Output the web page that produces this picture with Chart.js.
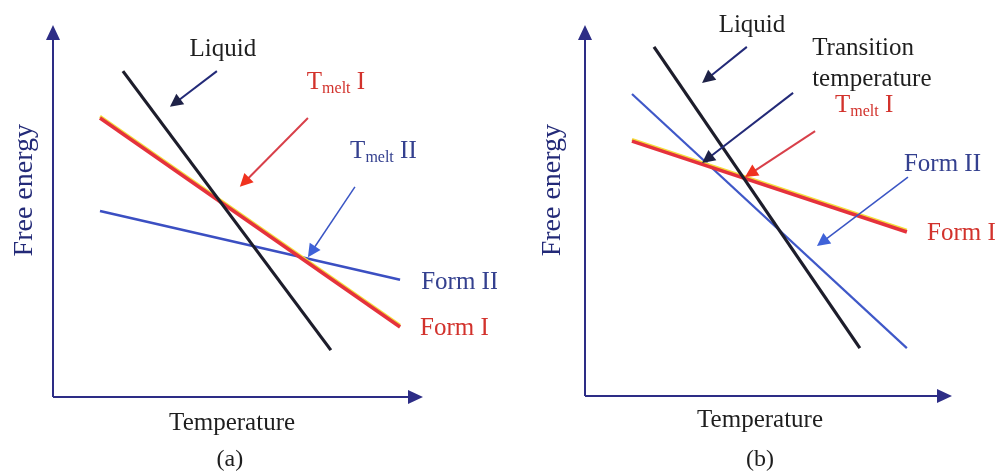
<!DOCTYPE html>
<html>
<head>
<meta charset="utf-8">
<script src="https://cdn.jsdelivr.net/npm/chart.js@4.4.1/dist/chart.umd.min.js"></script>
<style>
  html, body { margin: 0; padding: 0; background: #fff; }
  .panel { position: absolute; top: 0; width: 497px; height: 472px; }
</style>
</head>
<body>
<div class="panel" style="left:0"><canvas id="panelA" width="497" height="472"></canvas></div>
<div class="panel" style="left:498px"><canvas id="panelB" width="497" height="472"></canvas></div>
<script>
// Free energy against temperature for a liquid and two crystal forms.
// Each line is given by its two end points: temperature (T) and free energy (G).

// (a) monotropic case
const liquidA_T = [18.9, 75.1];
const liquidA_G = [87.6, 12.6];
const formIA_T  = [12.7, 93.8];
const formIA_G  = [75.0, 18.8];
const formIIA_T = [12.7, 93.8];
const formIIA_G = [50.0, 31.5];

// (b) enantiotropic case
const liquidB_T = [18.8, 74.9];
const liquidB_G = [94.1, 12.9];
const formIB_T  = [12.8, 87.7];
const formIB_G  = [68.7, 44.2];
const formIIB_T = [12.8, 87.7];
const formIIB_G = [81.4, 12.9];

const axisTitleX = 'Temperature';
const axisTitleY = 'Free energy';

const SERIF = "'Liberation Serif', 'DejaVu Serif', 'Times New Roman', serif";
const C = {
  liquid: '#1d1d2b',
  red: '#e5323c',
  yellow: '#f4de3c',
  blueA: '#3b4fc2',
  blueB: '#3f58c8',
  axis: '#2d2d86',
  navy: '#232a78',
  redText: '#d2322c',
  blueText: '#34408f',
  text: '#1e1e1e'
};

const pts = (ts, gs) => ts.map((t, i) => ({ x: t, y: gs[i] }));

function lineSet(label, ts, gs, color, width, order, extra) {
  return Object.assign({
    label, data: pts(ts, gs), borderColor: color, borderWidth: width,
    pointRadius: 0, showLine: true, fill: false, tension: 0,
    borderCapStyle: 'butt', order
  }, extra || {});
}

function drawHead(ctx, x1, y1, x2, y2, len, half, color) {
  const a = Math.atan2(y2 - y1, x2 - x1);
  const bx = x2 - len * Math.cos(a), by = y2 - len * Math.sin(a);
  ctx.beginPath();
  ctx.moveTo(x2, y2);
  ctx.lineTo(bx + half * Math.sin(a), by - half * Math.cos(a));
  ctx.lineTo(bx - half * Math.sin(a), by + half * Math.cos(a));
  ctx.closePath();
  ctx.fillStyle = color;
  ctx.fill();
}

function drawArrow(ctx, p1, p2, lineColor, headColor, width, len, half) {
  const a = Math.atan2(p2[1] - p1[1], p2[0] - p1[0]);
  ctx.beginPath();
  ctx.moveTo(p1[0], p1[1]);
  ctx.lineTo(p2[0] - (len - 2) * Math.cos(a), p2[1] - (len - 2) * Math.sin(a));
  ctx.strokeStyle = lineColor;
  ctx.lineWidth = width;
  ctx.stroke();
  drawHead(ctx, p1[0], p1[1], p2[0], p2[1], len, half, headColor);
}

// Text with an optional subscript part: [[text, size, dy], ...]
function drawRich(ctx, parts, x, y, color) {
  ctx.fillStyle = color;
  ctx.textBaseline = 'alphabetic';
  ctx.textAlign = 'left';
  let cx = x;
  parts.forEach(([s, size, dy]) => {
    ctx.font = size + 'px ' + SERIF;
    ctx.fillText(s, cx, y + dy);
    cx += ctx.measureText(s).width;
  });
}

const decorPlugin = {
  id: 'decor',
  beforeDatasetDraw(chart, args) {
    const ds = chart.data.datasets[args.index];
    if (ds.shiftY) { chart.ctx.save(); chart.ctx.translate(0, ds.shiftY); }
  },
  afterDatasetDraw(chart, args) {
    const ds = chart.data.datasets[args.index];
    if (ds.shiftY) chart.ctx.restore();
  },
  beforeDatasetsDraw(chart) {
    const ctx = chart.ctx, sx = chart.scales.x, sy = chart.scales.y;
    const P = (x, y) => [sx.getPixelForValue(x), sy.getPixelForValue(y)];
    const o = P(0, 0), top = P(0, 100), right = P(100, 0);
    ctx.save();
    ctx.lineWidth = 2;
    ctx.strokeStyle = C.axis;
    ctx.beginPath();
    ctx.moveTo(o[0], o[1]); ctx.lineTo(top[0], top[1] + 12);
    ctx.moveTo(o[0], o[1]); ctx.lineTo(right[0] - 12, right[1]);
    ctx.stroke();
    drawHead(ctx, o[0], o[1], top[0], top[1], 15, 7, C.axis);
    drawHead(ctx, o[0], o[1], right[0], right[1], 15, 7, C.axis);
    ctx.restore();
  },
  afterDraw(chart) {
    const ctx = chart.ctx, sx = chart.scales.x, sy = chart.scales.y;
    const P = (x, y) => [sx.getPixelForValue(x), sy.getPixelForValue(y)];
    const cfg = chart.options.plugins.decor;
    ctx.save();
    cfg.arrows.forEach(a => {
      drawArrow(ctx, P(a.from[0], a.from[1]), P(a.to[0], a.to[1]), a.line, a.head, a.width, 13, 6.5);
    });
    cfg.labels.forEach(l => {
      const p = P(l.x, l.y);
      if (l.rotate) {
        ctx.save();
        ctx.translate(p[0], p[1]);
        ctx.rotate(-Math.PI / 2);
        ctx.font = l.size + 'px ' + SERIF;
        ctx.fillStyle = l.color;
        ctx.textAlign = 'center';
        ctx.textBaseline = 'middle';
        ctx.fillText(l.text, 0, 0);
        ctx.restore();
      } else if (l.parts) {
        drawRich(ctx, l.parts, p[0], p[1], l.color);
      } else {
        ctx.font = l.size + 'px ' + SERIF;
        ctx.fillStyle = l.color;
        ctx.textAlign = l.align || 'center';
        ctx.textBaseline = 'middle';
        ctx.fillText(l.text, p[0], p[1]);
      }
    });
    ctx.restore();
  }
};

const tmelt = (roman) => [['T', 25, 0], ['melt', 16, 4], [' ' + roman, 25, 0]];

function makePanel(id, padding, datasets, decor) {
  return new Chart(document.getElementById(id), {
    type: 'line',
    data: { datasets },
    options: {
      responsive: false,
      animation: false,
      devicePixelRatio: 1,
      layout: { padding },
      scales: {
        x: { type: 'linear', min: 0, max: 100, display: false },
        y: { type: 'linear', min: 0, max: 100, display: false }
      },
      plugins: { legend: { display: false }, tooltip: { enabled: false }, decor }
    },
    plugins: [decorPlugin]
  });
}

makePanel('panelA', { left: 53, right: 74, top: 25, bottom: 75 }, [
  lineSet('Liquid', liquidA_T, liquidA_G, C.liquid, 3.2, 0),
  lineSet('Form I', formIA_T, formIA_G, C.red, 3.6, 1),
  lineSet('Form I edge', formIA_T, formIA_G, C.yellow, 3, 2, { shiftY: -1.8 }),
  lineSet('Form II', formIIA_T, formIIA_G, C.blueA, 2.6, 3)
], {
  arrows: [
    { from: [44.3, 87.6], to: [31.6, 78.0], line: C.navy, head: '#1e2247', width: 2 },
    { from: [68.9, 75.0], to: [50.5, 56.5], line: '#d8404a', head: '#f0321e', width: 2 },
    { from: [81.6, 56.5], to: [68.9, 37.6], line: '#3a55c4', head: '#3f62d8', width: 1.5 }
  ],
  labels: [
    { text: 'Liquid', x: 45.9, y: 93.5, size: 25, color: C.text },
    { parts: tmelt('I'), x: 68.6, y: 82.8, color: C.redText },
    { parts: tmelt('II'), x: 80.3, y: 64.2, color: C.blueText },
    { text: 'Form II', x: 99.5, y: 30.9, size: 25, color: C.blueText, align: 'left' },
    { text: 'Form I', x: 99.2, y: 18.5, size: 25, color: C.redText, align: 'left' },
    { text: axisTitleX, x: 48.4, y: -7.0, size: 25, color: C.text },
    { text: '(a)', x: 47.8, y: -16.9, size: 24, color: C.text },
    { text: axisTitleY, x: -7.6, y: 55.6, size: 28, color: C.navy, rotate: true }
  ]
});

makePanel('panelB', { left: 87, right: 43, top: 25, bottom: 76 }, [
  lineSet('Liquid', liquidB_T, liquidB_G, C.liquid, 3.2, 0),
  lineSet('Form I', formIB_T, formIB_G, C.red, 3.6, 1),
  lineSet('Form I edge', formIB_T, formIB_G, C.yellow, 3, 2, { shiftY: -1.8 }),
  lineSet('Form II', formIIB_T, formIIB_G, C.blueB, 2.2, 3)
], {
  arrows: [
    { from: [44.1, 94.1], to: [31.9, 84.4], line: C.navy, head: '#1e2247', width: 2 },
    { from: [56.7, 81.7], to: [31.9, 62.8], line: C.navy, head: '#1e2247', width: 2 },
    { from: [62.7, 71.4], to: [43.6, 59.0], line: '#d8404a', head: '#f0321e', width: 2 },
    { from: [88.0, 59.0], to: [63.2, 40.4], line: '#3a55c4', head: '#3f62d8', width: 1.5 }
  ],
  labels: [
    { text: 'Liquid', x: 45.5, y: 100.0, size: 25, color: C.text },
    { text: 'Transition', x: 61.9, y: 93.8, size: 25, color: C.text, align: 'left' },
    { text: 'temperature', x: 61.9, y: 85.4, size: 25, color: C.text, align: 'left' },
    { parts: tmelt('I'), x: 68.1, y: 76.5, color: C.redText },
    { text: 'Form II', x: 86.9, y: 62.3, size: 25, color: C.blueText, align: 'left' },
    { text: 'Form I', x: 93.2, y: 43.9, size: 25, color: C.redText, align: 'left' },
    { text: axisTitleX, x: 47.7, y: -6.7, size: 25, color: C.text },
    { text: '(b)', x: 47.7, y: -17.3, size: 24, color: C.text },
    { text: axisTitleY, x: -8.7, y: 55.5, size: 28, color: C.navy, rotate: true }
  ]
});
</script>
</body>
</html>
